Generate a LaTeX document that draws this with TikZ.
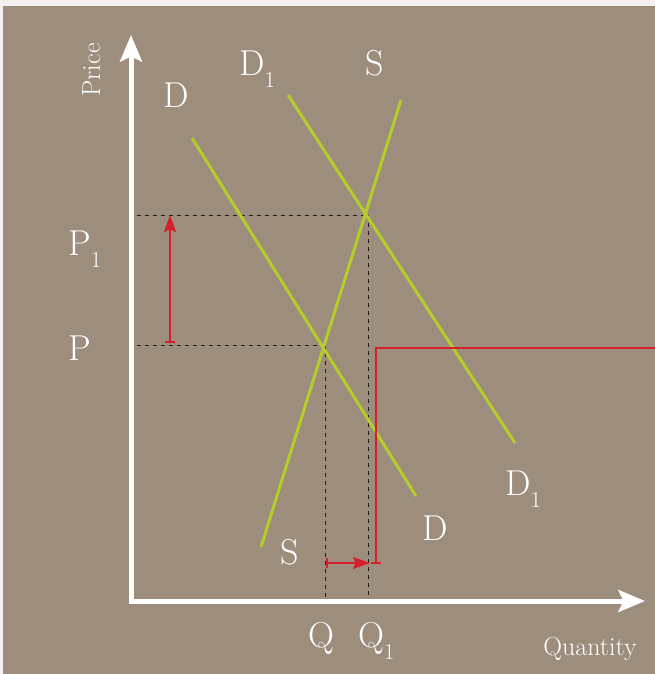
\documentclass[tikz,border=0pt]{standalone}
\usetikzlibrary{arrows.meta}
\definecolor{bgc}{RGB}{156,141,125}
\definecolor{edgec}{RGB}{242,241,239}
\definecolor{grn}{RGB}{180,205,40}
\definecolor{redc}{RGB}{214,32,41}
\definecolor{dashc}{RGB}{30,28,26}
\newcommand\subone{\raisebox{-9.5pt}{\fontsize{17}{17}\selectfont 1}}
\begin{document}
\begin{tikzpicture}[x=0.75pt,y=-0.75pt,
  axis/.style={white, line width=3.75pt, line join=miter,
    {Stealth[length=20pt,width=16.5pt,inset=4pt]}-{Stealth[length=20pt,width=16.5pt,inset=4pt]}},
  curve/.style={grn, line width=2.25pt},
  guide/.style={dashc, line width=0.75pt, dash pattern=on 3pt off 3pt},
  redmove/.style={redc, line width=1.5pt},
  redarrow/.style={redmove, {Bar[width=7.5pt]}-{Stealth[length=12.75pt,width=9pt,inset=2pt]}},
  lbl/.style={text=white, inner sep=0pt, font=\fontsize{27}{30}\selectfont},
  axlbl/.style={text=white, inner sep=0pt, font=\fontsize{19.5}{22}\selectfont}]
\fill[edgec] (0,0) rectangle (655,674);
\fill[bgc] (3,6) rectangle (655,674);
\useasboundingbox (0,0) rectangle (655,674);

% coordinates
\coordinate (o) at (131,601);
\coordinate (ytip) at (131,35);
\coordinate (xtip) at (645,601);
\coordinate (d0) at (192,138);
\coordinate (d1) at (416,496);
\coordinate (e0) at (288,95);
\coordinate (e1) at (515,443);
\coordinate (s0) at (261,547);
\coordinate (s1) at (401,100);
\coordinate (x0) at (323,345);
\coordinate (x1) at (365,215);
\coordinate (hp1) at (137,215);
\coordinate (hp) at (137,345);
\coordinate (vq0) at (325,345);
\coordinate (vq) at (325,599);
\coordinate (vq10) at (368,215);
\coordinate (vq1) at (368,599);
\coordinate (ra0) at (170,343);
\coordinate (ra1) at (170,215);
\coordinate (rb0) at (326,563);
\coordinate (rb1) at (370,563);
\coordinate (rc0) at (376,564);
\coordinate (rc1) at (376,348);
\coordinate (rc2) at (655,348);

% guides
\draw[guide] (hp1) -- (x1);
\draw[guide] (hp) -- (x0);
\draw[guide] (vq0) -- (vq);
\draw[guide] (vq10) -- (vq1);

% curves
\draw[curve] (d0) -- (d1);
\draw[curve] (e0) -- (e1);
\draw[curve] (s0) -- (s1);

% red shifts
\draw[redarrow] (ra0) -- (ra1);
\draw[redarrow] (rb0) -- (rb1);
\draw[redmove, {Bar[width=7pt]}-] (rc0) -- (rc1) -- (rc2);

% axes
\draw[axis] (ytip) -- (o) -- (xtip);

% labels
\node[axlbl, rotate=90, anchor=base] (price) at (100,70) {Price};
\node[axlbl, anchor=base] (qty) at (590,655) {Quantity};
\node[lbl, anchor=base] (dtop) at (176,107) {D};
\node[lbl, anchor=base west] (d1top) at (239,75) {D\subone};
\node[lbl, anchor=base] (stop) at (375,75) {S};
\node[lbl, anchor=base west] (p1) at (68,255) {P\subone};
\node[lbl, anchor=base west] (p) at (68,360) {P};
\node[lbl, anchor=base] (sbot) at (290,564) {S};
\node[lbl, anchor=base] (dbot) at (435,540) {D};
\node[lbl, anchor=base west] (d1bot) at (505,495) {D\subone};
\node[lbl, anchor=base] (q) at (321,647) {Q};
\node[lbl, anchor=base west] (q1) at (358,647) {Q\subone};
\end{tikzpicture}
\end{document}
